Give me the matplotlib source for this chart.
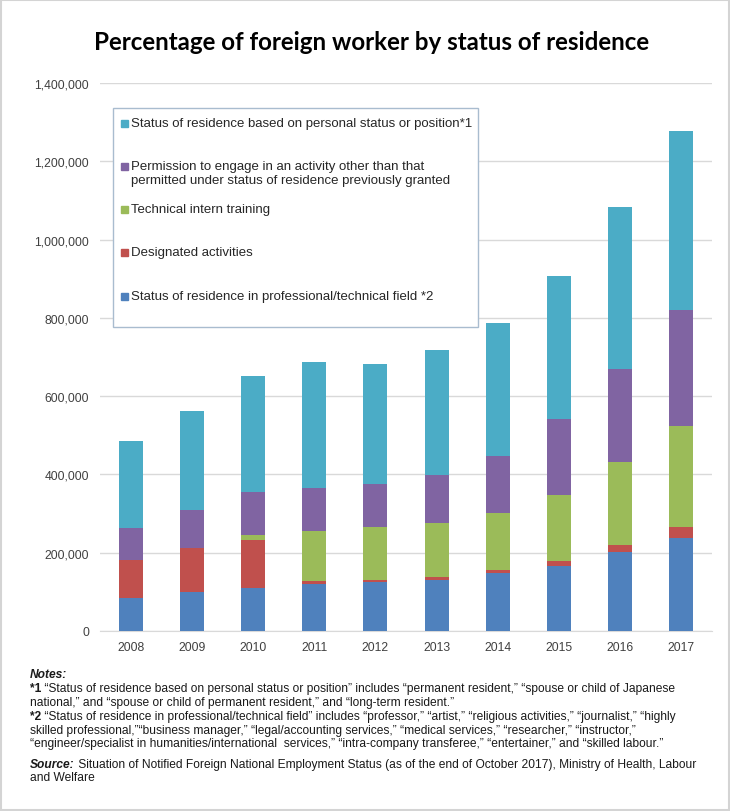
import matplotlib
matplotlib.use("Agg")
import matplotlib.pyplot as plt
from matplotlib.patches import Rectangle
from matplotlib.ticker import FuncFormatter

# data (workers, October of each year)
years = ["2008", "2009", "2010", "2011", "2012", "2013", "2014", "2015", "2016", "2017"]
professional = [84900, 100000, 110000, 121000, 124300, 130000, 147300, 167300, 201000, 238400]
designated = [95300, 111000, 123000, 6500, 6500, 8500, 8800, 12700, 18700, 26300]
intern = [0, 0, 13000, 128000, 135000, 137000, 145400, 168300, 211100, 257800]
permission = [82000, 98000, 108000, 110000, 108600, 122000, 146700, 192300, 239600, 297000]
status_based = [224000, 253300, 297000, 320700, 308000, 320000, 339400, 367200, 413400, 459100]

series = [
    ("Status of residence in professional/technical field *2", professional, "#4f81bd"),
    ("Designated activities", designated, "#c0504d"),
    ("Technical intern training", intern, "#9bbb59"),
    ("Permission to engage in an activity other than that\npermitted under status of residence previously granted", permission, "#8064a2"),
    ("Status of residence based on personal status or position*1", status_based, "#4bacc6"),
]

W, H = 730, 812
fig = plt.figure(figsize=(W / 100, H / 100), dpi=100)
plt.rcParams['font.family'] = ['Liberation Sans', 'DejaVu Sans']


def fx(x):
    return x / W


def fy(y):
    return 1 - y / H


# frame around the whole picture
fig.patches.append(Rectangle((0.001, 0.001), 0.998, 0.998, transform=fig.transFigure,
                             fill=False, edgecolor="#d4d4d4", linewidth=1.5))

fig.text(fx(372), fy(43), "Percentage of foreign worker by status of residence",
         ha="center", va="center", fontsize=17.4, fontweight="bold", family=["Lato", "DejaVu Sans"])

ax = fig.add_axes([fx(100), fy(632), fx(712) - fx(100), fy(84) - fy(632)])

x = list(range(len(years)))
bottom = [0] * len(years)
for label, vals, color in series:
    ax.bar(x, vals, width=0.39, bottom=bottom, color=color, zorder=3)
    bottom = [b + v for b, v in zip(bottom, vals)]

ax.set_xlim(-0.5, len(years) - 0.5)
ax.set_ylim(0, 1400000)
ax.set_yticks(range(0, 1400001, 200000))
ax.yaxis.set_major_formatter(FuncFormatter(lambda v, p: f"{int(v):,}"))
ax.set_xticks(x)
ax.set_xticklabels(years)
ax.tick_params(length=0, labelsize=8.7, labelcolor="#404040")
ax.tick_params(axis="x", pad=7)
ax.tick_params(axis="y", pad=8)
ax.grid(axis="y", color="#d9d9d9", linewidth=1, zorder=0)
for s in ["top", "right", "left"]:
    ax.spines[s].set_visible(False)
ax.spines["bottom"].set_color("#d9d9d9")

# legend box, laid out like the original
fig.patches.append(Rectangle((fx(113), fy(328)), fx(478) - fx(113), fy(109) - fy(328),
                             transform=fig.transFigure, facecolor="white",
                             edgecolor="#a9bccf", linewidth=1, zorder=5))
legend_y = [124, 167, 210, 253, 297]
for (label, vals, color), ly in zip(series[::-1], legend_y):
    fig.patches.append(Rectangle((fx(121), fy(ly + 3.5)), fx(7), 7 / H,
                                 transform=fig.transFigure, color=color, zorder=6))
    fig.text(fx(131), fy(ly - 6), label, ha="left", va="top", fontsize=9.5,
             color="#262626", linespacing=1.2, zorder=7)

# notes
note_kw = dict(ha="left", va="center", fontsize=8.65, color="#1a1a1a")


def two_part(y, head, body, head_style):
    t = fig.text(fx(30), fy(y), head, fontweight="bold", style=head_style, **note_kw)
    fig.canvas.draw()
    bb = t.get_window_extent()
    fig.text(bb.x1 / W, fy(y), body, **note_kw)


fig.text(fx(30), fy(675), "Notes:", fontweight="bold", style="italic", **note_kw)
two_part(689, "*1", " \u201cStatus of residence based on personal status or position\u201d includes \u201cpermanent resident,\u201d \u201cspouse or child of Japanese", "normal")
fig.text(fx(30), fy(703), "national,\u201d and \u201cspouse or child of permanent resident,\u201d and \u201clong-term resident.\u201d", **note_kw)
two_part(717, "*2", " \u201cStatus of residence in professional/technical field\u201d includes \u201cprofessor,\u201d \u201cartist,\u201d \u201creligious activities,\u201d \u201cjournalist,\u201d \u201chighly", "normal")
fig.text(fx(30), fy(731), "skilled professional,\u201d\u201cbusiness manager,\u201d \u201clegal/accounting services,\u201d \u201cmedical services,\u201d \u201cresearcher,\u201d \u201cinstructor,\u201d", **note_kw)
fig.text(fx(30), fy(744), "\u201cengineer/specialist in humanities/international  services,\u201d \u201cintra-company transferee,\u201d \u201centertainer,\u201d and \u201cskilled labour.\u201d", **note_kw)
two_part(765, "Source:", " Situation of Notified Foreign National Employment Status (as of the end of October 2017), Ministry of Health, Labour", "italic")
fig.text(fx(30), fy(778), "and Welfare", **note_kw)

fig.savefig("out.png", dpi=100)
